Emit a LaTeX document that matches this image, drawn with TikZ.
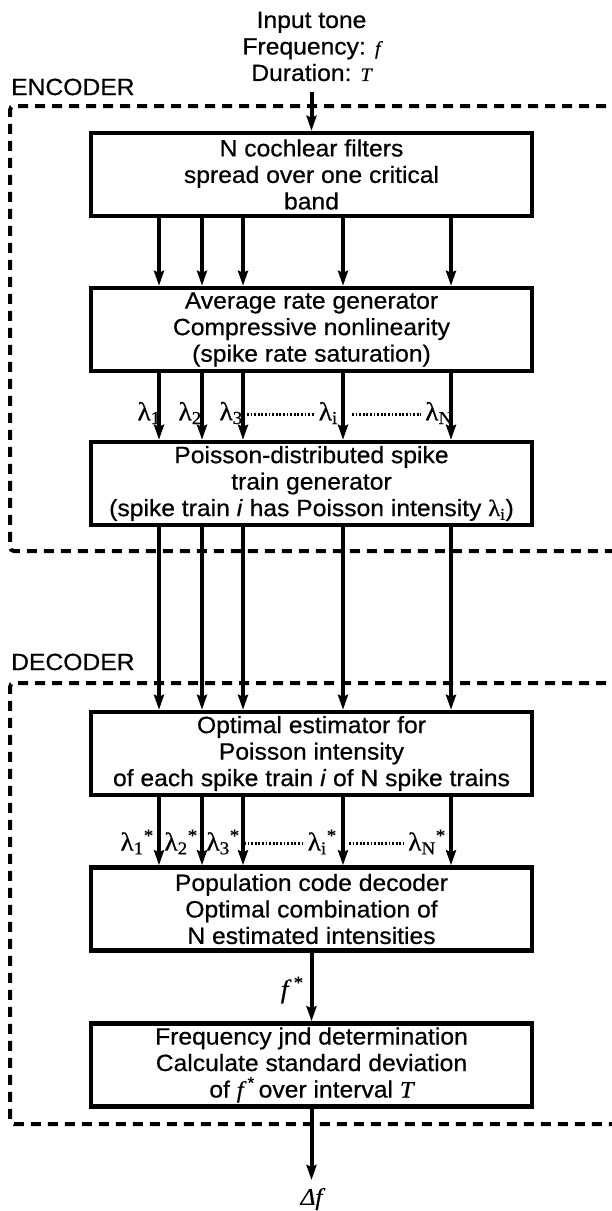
\documentclass[tikz,border=0pt]{standalone}
\usepackage{fontspec}
\setmainfont{Liberation Sans}[FakeStretch=1.05,FakeBold=0.6]
\newfontfamily\serif{Liberation Serif}[FakeStretch=1.05,FakeBold=0.6]
\usetikzlibrary{arrows.meta}
\newcommand{\lamsub}[1]{{\serif λ\textsubscript{#1}}}
\newcommand{\lamstar}[1]{{\serif λ\textsubscript{#1}\textsuperscript{*}}}
\tikzset{
  box/.style={draw, line width=4.5pt, minimum width=441pt, minimum height=83pt,
    align=center, inner sep=0pt, font=\fontsize{23.5}{26.5}\selectfont},
  arr/.style={line width=4pt, -{Stealth[length=15pt,width=10pt,inset=2pt]}},
  frame/.style={line width=4pt, dash pattern=on 10pt off 7pt, rounded corners=4pt},
  txt/.style={inner sep=0pt, align=center, font=\fontsize{23.5}{26.5}\selectfont},
  lbl/.style={inner sep=0pt, anchor=east, font=\fontsize{26}{26}\selectfont},
  dots/.style={line width=3pt, dash pattern=on 1.8pt off 1.8pt},
}
\begin{document}
\begin{tikzpicture}[x=1pt,y=-1pt]
\useasboundingbox (0,0) rectangle (612,1211);
% frames
\draw[frame] (640,106) -- (10,106) -- (10,551) -- (640,551);
\draw[frame] (640,683) -- (10,683) -- (10,1124) -- (640,1124);
\node[txt, anchor=west] (enc) at (11,87) {ENCODER};
\node[txt, anchor=west] (dec) at (11,662) {DECODER};
% input
\node[txt] (input) at (311.5,46.5) {Input tone\\Frequency: {\serif\itshape\fontsize{19}{19}\selectfont f}\\Duration: {\serif\itshape\fontsize{19}{19}\selectfont T}};
\coordinate (inarrow) at (311.5,92);
% boxes
\node[box] (b1) at (311.5,174.5) {N cochlear filters\\spread over one critical\\band};
\node[box] (b2) at (311.5,329.5) {Average rate generator\\Compressive nonlinearity\\(spike rate saturation)};
\node[box] (b3) at (311.5,483.5) {Poisson-distributed spike\\train generator\\(spike train \textit{i} has Poisson intensity \lamsub{i})};
\node[box] (b4) at (311.5,753.5) {Optimal estimator for\\Poisson intensity\\of each spike train \textit{i} of N spike trains};
\node[box] (b5) at (311.5,909) {Population code decoder\\Optimal combination of\\N estimated intensities};
\node[box] (b6) at (311.5,1065) {Frequency jnd determination\\Calculate standard deviation\\of {\serif\itshape f}\,\textsuperscript{*}\,over interval {\serif\itshape T}};
% arrows
\draw[arr] (inarrow) -- (b1.north);
\foreach \dx in {-152.5,-109.5,-68.5,31.5,139.5} {
  \draw[arr] ([xshift=\dx pt]b1.south) -- ([xshift=\dx pt]b2.north);
  \draw[arr] ([xshift=\dx pt]b2.south) -- ([xshift=\dx pt]b3.north);
  \draw[arr] ([xshift=\dx pt]b3.south) -- ([xshift=\dx pt]b4.north);
  \draw[arr] ([xshift=\dx pt]b4.south) -- ([xshift=\dx pt]b5.north);
}
\draw[arr] (b5.south) -- (b6.north);
\coordinate (outarrow) at (311.5,1180);
\draw[arr] (b6.south) -- (outarrow);
\node[txt, font=\serif\itshape\fontsize{24}{24}\selectfont] (df) at (311.5,1199) {Δf};
\node[lbl, font=\serif\itshape\fontsize{26}{26}\selectfont] (fstar) at (303,990) {f\,\textsuperscript{*}};
% lambda labels
\node[lbl] (l1) at (161,413) {\lamsub{1}};
\node[lbl] (l2) at (202,413) {\lamsub{2}};
\node[lbl] (l3) at (243,413) {\lamsub{3}};
\node[lbl] (li) at (338,413) {\lamsub{i}};
\node[lbl] (lN) at (453,413) {\lamsub{N}};
\draw[dots] ([xshift=4pt,yshift=-1pt]l3.east) -- ([xshift=-4pt,yshift=-1pt]li.west);
\draw[dots] ([xshift=14pt,yshift=-1pt]li.east) -- ([xshift=-4pt,yshift=-1pt]lN.west);
% lambda star labels
\node[lbl] (s1) at (154,842) {\lamstar{1}};
\node[lbl] (s2) at (198,842) {\lamstar{2}};
\node[lbl] (s3) at (240,842) {\lamstar{3}};
\node[lbl] (si) at (337,842) {\lamstar{i}};
\node[lbl] (sN) at (446,842) {\lamstar{N}};
\draw[dots] ([xshift=4pt,yshift=-1pt]s3.east) -- ([xshift=-4pt,yshift=-1pt]si.west);
\draw[dots] ([xshift=12pt,yshift=-1pt]si.east) -- ([xshift=-4pt,yshift=-1pt]sN.west);
\end{tikzpicture}
\end{document}
